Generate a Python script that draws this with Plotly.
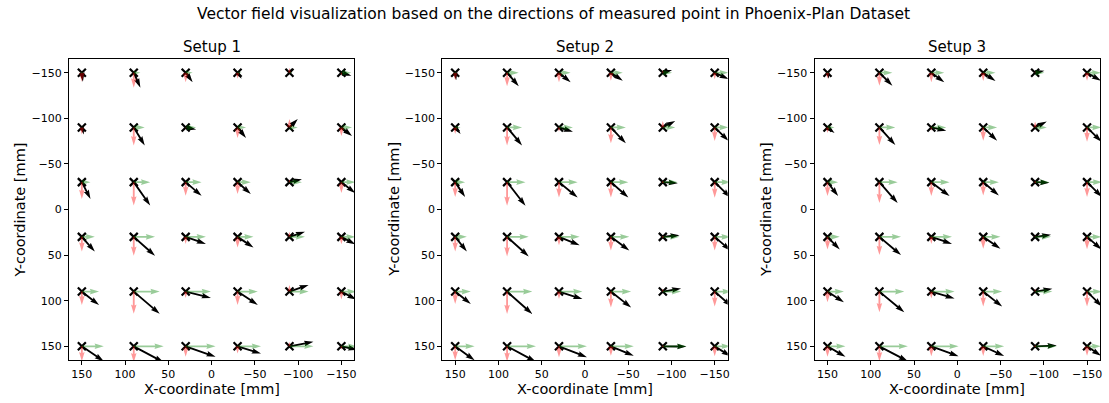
import math
import plotly.graph_objects as go

# Measurement grid (mm)
GRID_X = [150, 90, 30, -30, -90, -150]
GRID_Y = [-150, -90, -30, 30, 90, 150]

SETUP_NAMES = ["Setup 1", "Setup 2", "Setup 3"]

# Displacement vectors per grid point (mm); rows follow GRID_Y, columns GRID_X
U_SETUP1 = [
    [-1.2, -7.7, -8.1, -4.6, -3.5, -11.5],
    [-2.3, -12.7, -12.1, -9.8, -9.6, -12.3],
    [-10.0, -19.0, -18.4, -15.3, -14.4, -16.1],
    [-15.0, -24.6, -23.4, -18.4, -17.9, -16.1],
    [-19.9, -30.0, -29.2, -23.4, -22.1, -17.3],
    [-25.4, -34.6, -34.6, -27.1, -27.7, -18.4],
]
V_SETUP1 = [
    [9.9, 16.4, 10.4, 6.6, -5.5, 3.3],
    [7.7, 19.7, 2.2, 11.5, -9.3, 9.5],
    [18.6, 25.7, 15.0, 13.1, -3.3, 12.0],
    [16.1, 20.8, 7.7, 11.7, -5.5, 8.2],
    [14.8, 24.4, 6.9, 14.6, -7.3, 8.8],
    [16.4, 17.5, 11.5, 8.0, -4.9, 3.8],
]
U_SETUP2 = [
    [-1.2, -13.5, -13.5, -13.8, -10.7, -16.1],
    [-6.3, -17.3, -16.1, -17.3, -14.4, -16.1],
    [-11.5, -21.3, -21.6, -20.2, -17.3, -18.4],
    [-13.5, -25.0, -23.9, -21.3, -19.3, -18.4],
    [-18.1, -29.2, -27.1, -23.4, -21.1, -19.6],
    [-22.5, -33.4, -32.3, -26.5, -27.3, -18.4],
]
V_SETUP2 = [
    [8.2, 14.8, 10.6, 8.8, -3.0, 7.1],
    [7.1, 19.7, 4.7, 17.5, -7.1, 14.8],
    [16.4, 26.0, 16.8, 16.8, 1.1, 17.0],
    [16.1, 21.4, 9.1, 15.0, -1.9, 15.0],
    [13.5, 24.6, 8.2, 17.5, -3.3, 16.4],
    [15.3, 17.0, 12.0, 10.4, 0.3, 11.0],
]
U_SETUP3 = [
    [-1.7, -15.0, -15.0, -14.2, -10.7, -16.1],
    [-8.1, -18.4, -17.3, -16.1, -13.5, -16.7],
    [-12.3, -21.1, -21.1, -18.1, -16.5, -17.3],
    [-14.2, -25.0, -23.9, -19.9, -18.4, -16.7],
    [-19.0, -28.8, -26.9, -21.9, -19.9, -17.3],
    [-20.8, -32.9, -31.5, -24.2, -25.0, -16.1],
]
V_SETUP3 = [
    [6.6, 14.2, 10.4, 9.1, -2.2, 8.8],
    [6.2, 19.4, 3.6, 14.6, -6.6, 15.7],
    [15.3, 23.0, 15.3, 14.6, 0.8, 16.4],
    [13.9, 20.0, 7.7, 13.1, -2.2, 13.7],
    [11.7, 22.7, 7.7, 16.4, -3.0, 16.4],
    [11.5, 16.4, 11.0, 10.6, -0.8, 10.4],
]
U_ALL = [U_SETUP1, U_SETUP2, U_SETUP3]
V_ALL = [V_SETUP1, V_SETUP2, V_SETUP3]

TICKS = [150, 100, 50, 0, -50, -100, -150]
TICK_TEXT = ["150", "100", "50", "0", "\u221250", "\u2212100", "\u2212150"]

# ---- layout geometry (pixels) ----
FIG_W, FIG_H = 1109, 403
AX_LEFT = [69, 443, 816]
AX_W = 286
AX_TOP, AX_BOTTOM = 59, 360
AX_H = AX_BOTTOM - AX_TOP
LIM = 165.0

# quiver-style arrow geometry, in shaft widths
SHAFT_W = 0.0065 * AX_W
HEAD_W, HEAD_L, HEAD_AXIS_L = 3.0, 5.0, 4.5
MIN_SHAFT, MIN_LEN = 1.0, 1.0


def arrow_shape(length):
    """Arrow outline along +x (units of shaft width), tip at (length, 0)."""
    minsh = MIN_SHAFT * HEAD_L
    if length < MIN_LEN:
        pts = []
        for k in range(7):
            th = k * math.pi / 3.0
            pts.append((math.cos(th) * MIN_LEN * 0.5, math.sin(th) * MIN_LEN * 0.5))
        return pts, True
    if length < minsh:
        s = length / minsh
        xs = [0, minsh - HEAD_AXIS_L, minsh - HEAD_L, minsh]
        xs = [v * s for v in xs]
        ys = [0.5 * s, 0.5 * s, 0.5 * HEAD_W * s, 0.0]
    else:
        xs = [0, length - HEAD_AXIS_L, length - HEAD_L, length]
        ys = [0.5, 0.5, 0.5 * HEAD_W, 0.0]
    idx = [0, 1, 2, 3, 2, 1, 0, 0]
    pts = []
    for n, i in enumerate(idx):
        y = ys[i]
        if 3 < n < 7:
            y = -y
        pts.append((xs[i], y))
    pts[-1] = pts[0]
    return pts, False


def add_arrow(xs_out, ys_out, x0, y0, u, v, sx, sy):
    # vector on screen (pixels, y downward); axes are reversed in both directions
    dx = -u * sx
    dy = v * sy
    L = math.hypot(dx, dy)
    if L == 0:
        return
    ex, ey = dx / L, dy / L
    px, py = -ey, ex
    pts, is_dot = arrow_shape(L / SHAFT_W)
    for a, b in pts:
        if is_dot:
            sxp, syp = a * SHAFT_W, b * SHAFT_W
        else:
            sxp = (a * ex + b * px) * SHAFT_W
            syp = (a * ey + b * py) * SHAFT_W
        xs_out.append(x0 - sxp / sx)
        ys_out.append(y0 + syp / sy)
    xs_out.append(None)
    ys_out.append(None)


fig = go.Figure()
sx = AX_W / (2 * LIM)
sy = AX_H / (2 * LIM)

for k in range(3):
    xa = "x" if k == 0 else f"x{k + 1}"
    ya = "y" if k == 0 else f"y{k + 1}"
    U, V = U_ALL[k], V_ALL[k]

    mx, my = [], []
    for r, gy in enumerate(GRID_Y):
        for c, gx in enumerate(GRID_X):
            mx.append(gx)
            my.append(gy)
    fig.add_trace(go.Scatter(
        x=mx, y=my, mode="markers", xaxis=xa, yaxis=ya, hoverinfo="skip",
        marker=dict(symbol="x-thin", size=8, line=dict(width=2.2, color="black"),
                    color="black"),
        showlegend=False))

    layers = [
        ("black", lambda u, v: (u, v)),
        ("rgba(0,128,0,0.4)", lambda u, v: (u, 0.0)),
        ("rgba(255,0,0,0.4)", lambda u, v: (0.0, v)),
    ]
    for color, comp in layers:
        px_, py_ = [], []
        for r, gy in enumerate(GRID_Y):
            for c, gx in enumerate(GRID_X):
                uu, vv = comp(U[r][c], V[r][c])
                add_arrow(px_, py_, gx, gy, uu, vv, sx, sy)
        fig.add_trace(go.Scatter(
            x=px_, y=py_, mode="lines", fill="toself", fillcolor=color,
            line=dict(width=0, color=color), xaxis=xa, yaxis=ya,
            hoverinfo="skip", showlegend=False))

axis_common = dict(
    showgrid=False, zeroline=False, showline=True, linecolor="black",
    linewidth=1, mirror=True, ticks="outside", ticklen=4, tickwidth=1,
    tickcolor="black", tickvals=TICKS, ticktext=TICK_TEXT,
    tickfont=dict(family="DejaVu Sans", size=11, color="black"),
)

layout = dict(
    width=FIG_W, height=FIG_H, margin=dict(l=0, r=0, t=0, b=0),
    paper_bgcolor="white", plot_bgcolor="white", showlegend=False,
)
annotations = []
font = dict(family="DejaVu Sans", color="black")
for k in range(3):
    sfx = "" if k == 0 else str(k + 1)
    x0 = AX_LEFT[k] / FIG_W
    x1 = (AX_LEFT[k] + AX_W) / FIG_W
    y0 = 1 - AX_BOTTOM / FIG_H
    y1 = 1 - AX_TOP / FIG_H
    layout["xaxis" + sfx] = dict(axis_common, domain=[x0, x1], range=[LIM, -LIM],
                                 anchor="y" + sfx)
    layout["yaxis" + sfx] = dict(axis_common, domain=[y0, y1], range=[LIM, -LIM],
                                 anchor="x" + sfx)
    cx = (x0 + x1) / 2
    annotations.append(dict(text=SETUP_NAMES[k], x=cx, y=1 - 47 / FIG_H,
                            xref="paper", yref="paper", showarrow=False,
                            xanchor="center", yanchor="middle",
                            font=dict(font, size=15)))
    annotations.append(dict(text="X-coordinate [mm]", x=cx, y=1 - 389 / FIG_H,
                            xref="paper", yref="paper", showarrow=False,
                            xanchor="center", yanchor="middle",
                            font=dict(font, size=14.5)))
    annotations.append(dict(text="Y-coordinate [mm]",
                            x=(AX_LEFT[k] - 49) / FIG_W,
                            y=(y0 + y1) / 2, xref="paper", yref="paper",
                            showarrow=False, textangle=-90,
                            xanchor="center", yanchor="middle",
                            font=dict(font, size=14.5)))

annotations.append(dict(
    text="Vector field visualization based on the directions of measured point in Phoenix-Plan Dataset",
    x=555 / FIG_W, y=1 - 14 / FIG_H, xref="paper", yref="paper", showarrow=False,
    xanchor="center", yanchor="middle", font=dict(font, size=15.5)))
layout["annotations"] = annotations

fig.update_layout(**layout)
fig.write_html("out.html")
